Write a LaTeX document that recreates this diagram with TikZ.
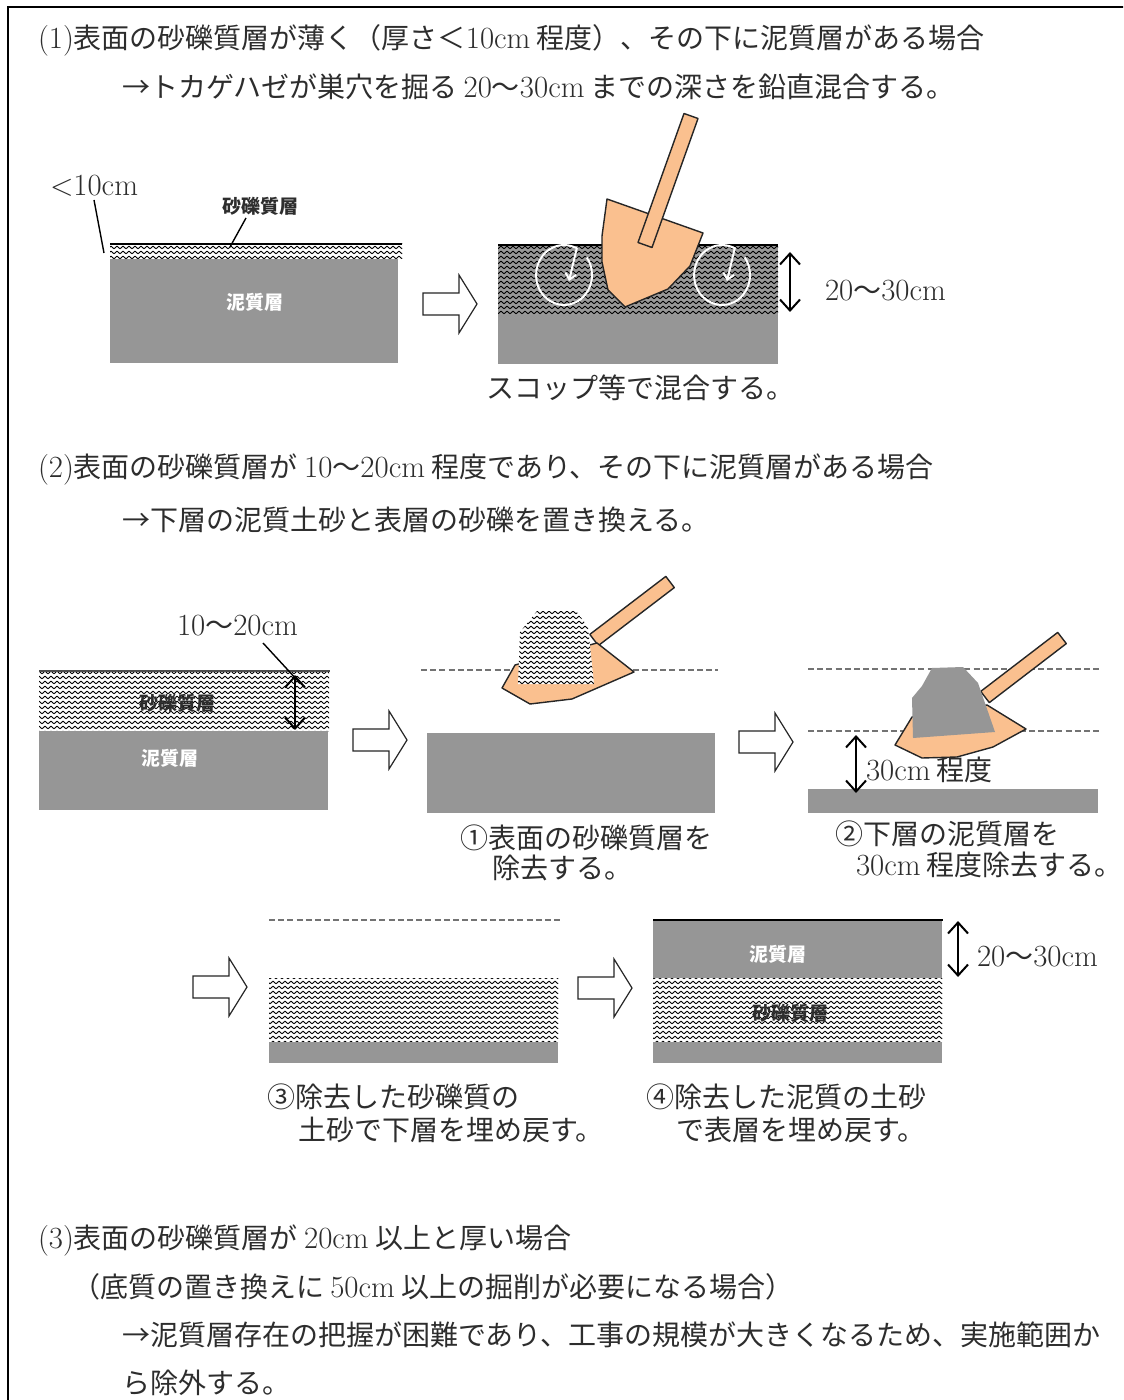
\documentclass[tikz,border=0pt]{standalone}
\usepackage{fontspec}
\newfontfamily\jp{Noto Sans CJK JP}
\usetikzlibrary{arrows.meta,patterns}

\definecolor{mud}{RGB}{150,150,150}
\definecolor{peach}{RGB}{250,192,143}
\definecolor{ink}{RGB}{45,45,45}

% wavy hatching for the sandy-gravel layer
\pgfdeclarepatternformonly{waves}{\pgfpoint{-0.2pt}{-0.2pt}}{\pgfpoint{3.2pt}{2.7pt}}{\pgfpoint{3pt}{2.5pt}}{%
  \pgfsetlinewidth{0.45pt}%
  \pgfpathmoveto{\pgfpoint{0pt}{0.6pt}}%
  \pgfpathcurveto{\pgfpoint{0.75pt}{0.6pt}}{\pgfpoint{0.75pt}{1.9pt}}{\pgfpoint{1.5pt}{1.9pt}}%
  \pgfpathcurveto{\pgfpoint{2.25pt}{1.9pt}}{\pgfpoint{2.25pt}{0.6pt}}{\pgfpoint{3pt}{0.6pt}}%
  \pgfusepath{stroke}%
}

% Latin figures and units in a roman face
\newcommand\lat[1]{{\rmfamily\fontsize{15.4pt}{17pt}\selectfont #1}}

\tikzset{
  every node/.style={inner sep=0pt, outer sep=0pt},
  txt/.style={anchor=west, font=\jp\fontsize{14pt}{17pt}\selectfont, text=ink},
  lbl/.style={font=\jp\bfseries\fontsize{9.5pt}{11pt}\selectfont},
  wavy/.style={pattern=waves, pattern color=black},
  shovel/.style={fill=peach, draw=black!85, line width=0.7pt, line join=round},
  guide/.style={draw=black!55, dash pattern=on 3pt off 1.6pt, line width=0.8pt},
  dimarrow/.style={{Straight Barb[length=5.5pt,width=10pt]}-{Straight Barb[length=5.5pt,width=10pt]}, line width=1pt},
  leader/.style={draw=black, line width=0.7pt},
  swirl/.style={draw=white, line width=1pt, -{Straight Barb[length=3pt,width=5.5pt]}},
  blockarrow/.pic={
    \draw[fill=white, draw=black!85, line width=0.6pt, line join=miter]
      (0,-11) -- (36,-11) -- (36,-29) -- (54,0) -- (36,29) -- (36,11) -- (0,11) -- cycle;
  }
}

\begin{document}
\begin{tikzpicture}[x=0.5pt,y=-0.5pt]
\useasboundingbox (0,0) rectangle (1123,1400);
\fill[white] (0,0) rectangle (1123,1400);
\begin{scope}
\clip (0,0) rectangle (1123,1400);

% outer frame
\draw[line width=1pt] (8,1410) -- (8,7) -- (1130,7);

% ================= (1) =================
\node[txt] (h1) at (38,40) {\lat{(1)}表面の砂礫質層が薄く（厚さ＜\lat{10cm} 程度）、その下に泥質層がある場合};
\node[txt] (h1b) at (122,87) {→トカゲハゼが巣穴を掘る \lat{20}～\lat{30cm} までの深さを鉛直混合する。};

% thin gravel skin over mud
\fill[mud] (110,258) rectangle (398,363);
\fill[white] (110,244) rectangle (402,259);
\fill[wavy] (110,244) rectangle (402,259);
\draw[line width=0.9pt] (110,244) -- (402,244);
\node[lbl, text=white] (mud1) at (255,302) {泥質層};
\node[txt] (lt10) at (50,186) {\lat{<10cm}};
\node[lbl, text=ink] (grv1) at (260,206) {砂礫質層};
\coordinate (lt10tail) at (94,200);
\coordinate (lt10foot) at (104,253);
\draw[leader] (lt10tail) -- (lt10foot);
\coordinate (grv1tail) at (246,218);
\coordinate (grv1foot) at (230,247);
\draw[leader] (grv1tail) -- (grv1foot);

\pic at (423,304) {blockarrow};

% mixed layer
\fill[mud] (498,245) rectangle (778,364);
\fill[black!40] (498,245) rectangle (778,315);
\fill[wavy] (498,245) rectangle (778,315);
\draw[line width=1pt] (498,245) -- (778,245);
\coordinate (swL) at (586.7,257.4);
\coordinate (swLtip) at (569,281);
\draw[swirl] (swL) arc[start angle=-36, end angle=297, x radius=28, y radius=30] -- (swLtip);
\coordinate (swR) at (744.7,257.4);
\coordinate (swRtip) at (727,281);
\draw[swirl] (swR) arc[start angle=-36, end angle=297, x radius=28, y radius=30] -- (swRtip);

% shovel
\draw[shovel] (607,199) -- (703,233) -- (690,266) -- (668,289) -- (625,307) -- (608,290) -- (602,262) -- (602,236) -- cycle;
\draw[shovel] (638,242.5) -- (652,247.5) -- (698,118.5) -- (684,113.5) -- cycle;

\coordinate (d1a) at (790,252);
\coordinate (d1b) at (790,312);
\draw[dimarrow] (d1a) -- (d1b);
\node[txt] (d1lbl) at (825,291) {\lat{20}～\lat{30cm}};
\node[txt, anchor=center] (c1) at (640,388) {スコップ等で混合する。};

% ================= (2) =================
\node[txt] (h2) at (38,470) {\lat{(2)}表面の砂礫質層が \lat{10}～\lat{20cm} 程度であり、その下に泥質層がある場合};
\node[txt] (h2b) at (122,520) {→下層の泥質土砂と表層の砂礫を置き換える。};

% initial profile
\fill[white] (39,671) rectangle (329,731);
\fill[wavy] (39,671) rectangle (329,731);
\fill[mud] (39,731) rectangle (328,810);
\draw[draw=black!70, line width=0.8pt] (39,671) -- (330,671);
\node[lbl, text=ink] (grvA) at (177,703) {砂礫質層};
\node[lbl, text=white] (mudA) at (170,758) {泥質層};
\coordinate (dAa) at (295,675);
\coordinate (dAb) at (295,730);
\draw[dimarrow] (dAa) -- (dAb);
\node[txt] (dAlbl) at (177,626) {\lat{10}～\lat{20cm}};
\coordinate (dAtail) at (263,643);
\coordinate (dAfoot) at (298,681);
\draw[leader] (dAtail) -- (dAfoot);

\pic at (353,740) {blockarrow};

% step 1: gravel removed
\draw[guide] (421,670) -- (718,670);
\fill[mud] (427,733) rectangle (715,813);
\draw[shovel] (589.8,634.4) -- (598.3,645.6) -- (674.3,587.6) -- (665.8,576.4) -- cycle;
\draw[shovel] (502,688) -- (530,704) -- (572,699) -- (634,672) -- (597,643) -- (515,665) -- cycle;
\fill[white] (520,632) -- (537,611) -- (576,611) -- (588,627) -- (594,684) -- (518,684) -- cycle;
\fill[wavy] (520,632) -- (537,611) -- (576,611) -- (588,627) -- (594,684) -- (518,684) -- cycle;
\node[txt] (c2a) at (460,838) {①表面の砂礫質層を};
\node[txt] (c2b) at (492,868) {除去する。};

\pic at (739,742) {blockarrow};

% step 2: mud dug out
\draw[guide] (808,669) -- (1100,669);
\draw[guide] (808,731) -- (1100,731);
\fill[mud] (808,789) rectangle (1098,813);
\draw[shovel] (980.7,691.4) -- (989.3,702.6) -- (1066.3,643.6) -- (1057.7,632.4) -- cycle;
\draw[shovel] (895,745) -- (922,758) -- (957,757) -- (993,747) -- (1026,729) -- (987,705) -- (912,717) -- cycle;
\fill[mud] (912,698) -- (922,686) -- (932,668) -- (963,667) -- (978,683) -- (995,732) -- (913,738) -- cycle;
\coordinate (dCa) at (856,735);
\coordinate (dCb) at (856,793);
\draw[dimarrow] (dCa) -- (dCb);
\node[txt] (dClbl) at (866,770) {\lat{30cm} 程度};
\node[txt] (c3a) at (835,834) {②下層の泥質層を};
\node[txt] (c3b) at (856,865) {\lat{30cm} 程度除去する。};

% step 3: gravel placed at the bottom
\pic at (193,987) {blockarrow};
\draw[guide] (269,920) -- (560,920);
\fill[white] (269,978) rectangle (558,1042);
\fill[wavy] (269,978) rectangle (558,1042);
\fill[mud] (269,1042) rectangle (558,1063);
\node[txt] (c4a) at (267,1097) {③除去した砂礫質の};
\node[txt] (c4b) at (298,1130) {土砂で下層を埋め戻す。};

% step 4: mud placed on top
\pic at (578,988) {blockarrow};
\fill[mud] (653,920) rectangle (942,978);
\fill[white] (653,978) rectangle (942,1042);
\fill[wavy] (653,978) rectangle (942,1042);
\fill[mud] (653,1042) rectangle (942,1063);
\draw[line width=0.9pt] (653,920) -- (943,920);
\node[lbl, text=white] (mudE) at (778,954) {泥質層};
\node[lbl, text=ink] (grvE) at (790,1013) {砂礫質層};
\coordinate (dEa) at (958,921);
\coordinate (dEb) at (958,977);
\draw[dimarrow] (dEa) -- (dEb);
\node[txt] (dElbl) at (977,957) {\lat{20}～\lat{30cm}};
\node[txt] (c5a) at (646,1097) {④除去した泥質の土砂};
\node[txt] (c5b) at (676,1130) {で表層を埋め戻す。};

% ================= (3) =================
\node[txt] (h3) at (38,1240) {\lat{(3)}表面の砂礫質層が \lat{20cm} 以上と厚い場合};
\node[txt] (h3b) at (72,1287) {（底質の置き換えに \lat{50cm} 以上の掘削が必要になる場合）};
\node[txt] (h3c) at (122,1335) {→泥質層存在の把握が困難であり、工事の規模が大きくなるため、実施範囲か};
\node[txt] (h3d) at (122,1383) {ら除外する。};
\end{scope}
\end{tikzpicture}
\end{document}
